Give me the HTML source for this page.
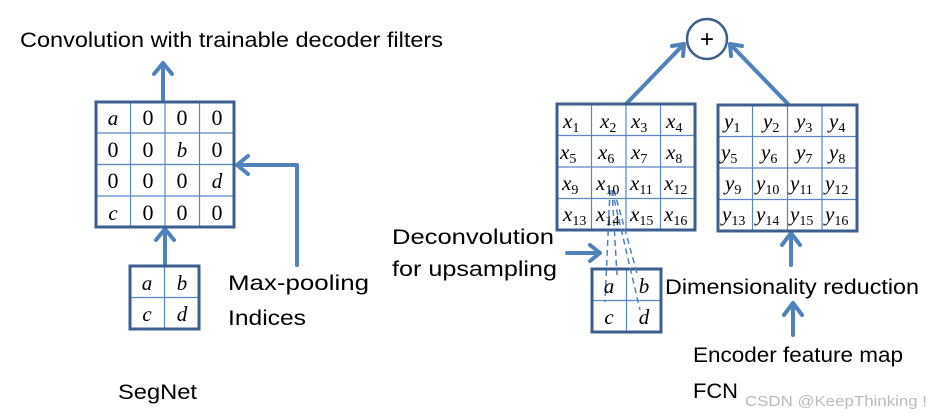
<!DOCTYPE html>
<html><head><meta charset="utf-8"><style>
html,body{margin:0;padding:0;background:#fff}
svg{display:block}
.t{font-family:"Liberation Sans",sans-serif;fill:#000}
.m{font-family:"Liberation Serif",serif;font-style:italic;font-size:21px}
.d{font-family:"Liberation Serif",serif;font-size:22px}
.s{font-size:14px;font-style:normal}
</style></head><body>
<svg width="937" height="417" viewBox="0 0 937 417" xmlns="http://www.w3.org/2000/svg">
<g stroke="#4f81bd" stroke-width="4" fill="none" stroke-linecap="round" stroke-linejoin="round">
<!-- segnet arrows -->
<line x1="163" y1="101" x2="163" y2="64"/><polyline points="154,74 163,63 172,74"/>
<line x1="165" y1="265" x2="165" y2="230"/><polyline points="156,240 165,229 174,240"/>
<polyline points="297,265 297,165 238,165"/><polyline points="248,156 237,165 248,174"/>
<!-- fcn -->
<line x1="627" y1="103" x2="684" y2="44"/><polyline points="672,46 684,44 683,56"/>
<line x1="788" y1="104" x2="730" y2="44"/><polyline points="731,56 730,44 742,46"/>
<line x1="567" y1="253" x2="599" y2="253"/><polyline points="590,245 600,253 590,261"/>
<line x1="791" y1="265" x2="791" y2="235"/><polyline points="782,245 791,233 800,245"/>
<line x1="793" y1="335" x2="793" y2="305"/><polyline points="784,315 793,303 802,315"/>
</g>
<circle cx="707" cy="39" r="20" fill="#fff" stroke="#3d5f8f" stroke-width="2.5"/>
<text x="707" y="47" text-anchor="middle" class="t" font-size="24">+</text>
<!-- grids -->
<g stroke="#5b86c5" stroke-width="1.2">
<line x1="130.5" y1="102" x2="130.5" y2="227"/><line x1="165" y1="102" x2="165" y2="227"/><line x1="199.5" y1="102" x2="199.5" y2="227"/>
<line x1="96" y1="133" x2="234" y2="133"/><line x1="96" y1="164.5" x2="234" y2="164.5"/><line x1="96" y1="196" x2="234" y2="196"/>
<line x1="164.5" y1="266" x2="164.5" y2="329"/><line x1="130" y1="297.5" x2="199" y2="297.5"/>
<line x1="591.5" y1="104" x2="591.5" y2="230"/><line x1="626" y1="104" x2="626" y2="230"/><line x1="660.5" y1="104" x2="660.5" y2="230"/>
<line x1="557" y1="135.5" x2="695" y2="135.5"/><line x1="557" y1="167" x2="695" y2="167"/><line x1="557" y1="198.5" x2="695" y2="198.5"/>
<line x1="752.5" y1="105" x2="752.5" y2="231"/><line x1="787.5" y1="105" x2="787.5" y2="231"/><line x1="822" y1="105" x2="822" y2="231"/>
<line x1="718" y1="136.5" x2="857" y2="136.5"/><line x1="718" y1="168" x2="857" y2="168"/><line x1="718" y1="199.5" x2="857" y2="199.5"/>
<line x1="626.5" y1="269" x2="626.5" y2="332"/><line x1="592" y1="300.5" x2="661" y2="300.5"/>
</g>
<g fill="none" stroke="#3d5f8f" stroke-width="3">
<rect x="96" y="102" width="138" height="125"/>
<rect x="130" y="266" width="69" height="63"/>
<rect x="557" y="104" width="138" height="126"/>
<rect x="718" y="105" width="139" height="126"/>
<rect x="592" y="269" width="69" height="63"/>
</g>
<g stroke="#4f81bd" stroke-width="1.5" stroke-dasharray="6,4" fill="none">
<line x1="610" y1="190" x2="605" y2="302"/>
<line x1="612" y1="190" x2="617" y2="275"/>
<line x1="612" y1="190" x2="640" y2="310"/>
<line x1="614" y1="190" x2="638" y2="277"/>
</g>
<!-- segnet grid text -->
<g text-anchor="middle">
<text x="113" y="125" class="m">a</text><text x="148" y="125" class="d">0</text><text x="182" y="125" class="d">0</text><text x="217" y="125" class="d">0</text>
<text x="113" y="157" class="d">0</text><text x="148" y="157" class="d">0</text><text x="182" y="157" class="m">b</text><text x="217" y="157" class="d">0</text>
<text x="113" y="188" class="d">0</text><text x="148" y="188" class="d">0</text><text x="182" y="188" class="d">0</text><text x="217" y="188" class="m">d</text>
<text x="113" y="220" class="m">c</text><text x="148" y="220" class="d">0</text><text x="182" y="220" class="d">0</text><text x="217" y="220" class="d">0</text>
<text x="147" y="290" class="m">a</text><text x="182" y="290" class="m">b</text>
<text x="147" y="321" class="m">c</text><text x="182" y="321" class="m">d</text>
<text x="609" y="293" class="m">a</text><text x="644" y="293" class="m">b</text>
<text x="609" y="324" class="m">c</text><text x="644" y="324" class="m">d</text>
</g>
<g class="m">
<text x="563" y="128">x<tspan class="s" dy="4">1</tspan></text>
<text x="600" y="128">x<tspan class="s" dy="4">2</tspan></text>
<text x="631" y="128">x<tspan class="s" dy="4">3</tspan></text>
<text x="666" y="128">x<tspan class="s" dy="4">4</tspan></text>
<text x="560" y="159">x<tspan class="s" dy="4">5</tspan></text>
<text x="598" y="159">x<tspan class="s" dy="4">6</tspan></text>
<text x="631" y="159">x<tspan class="s" dy="4">7</tspan></text>
<text x="666" y="159">x<tspan class="s" dy="4">8</tspan></text>
<text x="562" y="190">x<tspan class="s" dy="4">9</tspan></text>
<text x="596" y="190">x<tspan class="s" dy="4">10</tspan></text>
<text x="630" y="190">x<tspan class="s" dy="4">11</tspan></text>
<text x="664" y="190">x<tspan class="s" dy="4">12</tspan></text>
<text x="563" y="221">x<tspan class="s" dy="4">13</tspan></text>
<text x="596" y="221">x<tspan class="s" dy="4">14</tspan></text>
<text x="630" y="221">x<tspan class="s" dy="4">15</tspan></text>
<text x="664" y="221">x<tspan class="s" dy="4">16</tspan></text>
<text x="724" y="128">y<tspan class="s" dy="4">1</tspan></text>
<text x="763" y="128">y<tspan class="s" dy="4">2</tspan></text>
<text x="796" y="128">y<tspan class="s" dy="4">3</tspan></text>
<text x="829" y="128">y<tspan class="s" dy="4">4</tspan></text>
<text x="721" y="159">y<tspan class="s" dy="4">5</tspan></text>
<text x="761" y="159">y<tspan class="s" dy="4">6</tspan></text>
<text x="796" y="159">y<tspan class="s" dy="4">7</tspan></text>
<text x="829" y="159">y<tspan class="s" dy="4">8</tspan></text>
<text x="725" y="190">y<tspan class="s" dy="4">9</tspan></text>
<text x="756" y="190">y<tspan class="s" dy="4">10</tspan></text>
<text x="790" y="190">y<tspan class="s" dy="4">11</tspan></text>
<text x="825" y="190">y<tspan class="s" dy="4">12</tspan></text>
<text x="722" y="221">y<tspan class="s" dy="4">13</tspan></text>
<text x="756" y="221">y<tspan class="s" dy="4">14</tspan></text>
<text x="790" y="221">y<tspan class="s" dy="4">15</tspan></text>
<text x="825" y="221">y<tspan class="s" dy="4">16</tspan></text>
</g>
<!-- labels -->
<g class="t" font-size="21">
<text x="20" y="47" textLength="423" lengthAdjust="spacingAndGlyphs">Convolution with trainable decoder filters</text>
<text x="228" y="290" textLength="141" lengthAdjust="spacingAndGlyphs">Max-pooling</text>
<text x="228" y="325" textLength="78" lengthAdjust="spacingAndGlyphs">Indices</text>
<text x="118" y="399" textLength="79" lengthAdjust="spacingAndGlyphs">SegNet</text>
<text x="392" y="244" textLength="162" lengthAdjust="spacingAndGlyphs">Deconvolution</text>
<text x="392" y="276" textLength="165" lengthAdjust="spacingAndGlyphs">for upsampling</text>
<text x="665" y="294" textLength="254" lengthAdjust="spacingAndGlyphs">Dimensionality reduction</text>
<text x="693" y="362" textLength="210" lengthAdjust="spacingAndGlyphs">Encoder feature map</text>
<text x="693" y="398" textLength="45" lengthAdjust="spacingAndGlyphs">FCN</text>
</g>
<text x="745" y="406" font-family="Liberation Sans,sans-serif" font-size="15" fill="#bbb" textLength="182" lengthAdjust="spacingAndGlyphs">CSDN @KeepThinking !</text>
</svg>
</body></html>
